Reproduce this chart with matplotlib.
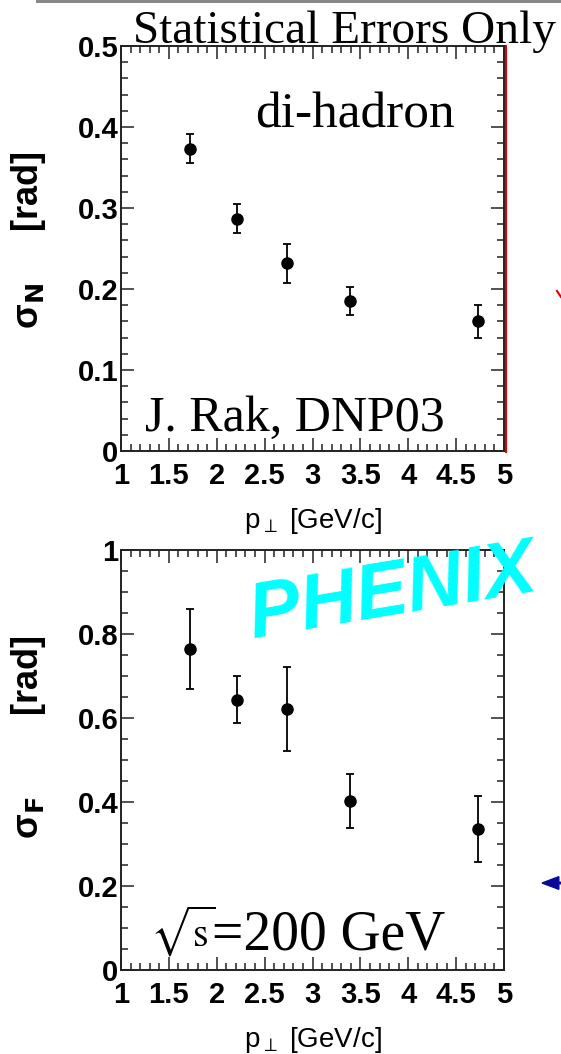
import matplotlib
matplotlib.use('Agg')
import matplotlib.pyplot as plt
from matplotlib.ticker import MultipleLocator, FormatStrFormatter
from matplotlib.lines import Line2D
from matplotlib.patches import Rectangle, FancyArrow

# data
pt = [1.72, 2.21, 2.73, 3.39, 4.73]
sigma_n = [0.373, 0.287, 0.232, 0.185, 0.160]
sigma_n_err = [0.018, 0.018, 0.024, 0.017, 0.020]
sigma_f = [0.764, 0.643, 0.621, 0.402, 0.336]
sigma_f_err = [0.096, 0.056, 0.100, 0.065, 0.078]

W, H = 561, 1054
SANS = ['Liberation Sans', 'DejaVu Sans']
SERIF = ['Liberation Serif', 'DejaVu Serif']


def fx(px):
    return px / W


def fy(px):
    return 1 - px / H


def style_axes(ax, ymax, ymajor, yminor):
    ax.set_xlim(1, 5)
    ax.set_ylim(0, ymax)
    ax.xaxis.set_major_locator(MultipleLocator(0.5))
    ax.xaxis.set_minor_locator(MultipleLocator(0.1))
    ax.yaxis.set_major_locator(MultipleLocator(ymajor))
    ax.yaxis.set_minor_locator(MultipleLocator(yminor))
    ax.xaxis.set_major_formatter(FormatStrFormatter('%g'))
    ax.yaxis.set_major_formatter(FormatStrFormatter('%g'))
    ax.tick_params(which='both', direction='in', top=True, right=True, width=1.1, color='#222222')
    ax.tick_params(which='major', length=9.4)
    ax.tick_params(which='minor', length=5)
    ax.tick_params(axis='x', pad=8)
    ax.tick_params(axis='y', pad=2)
    for lab in ax.get_xticklabels() + ax.get_yticklabels():
        lab.set_family(SANS)
        lab.set_fontweight('bold')
        lab.set_fontsize(21)
    for sp in ax.spines.values():
        sp.set_linewidth(1.4)
        sp.set_color('#222222')


fig = plt.figure(figsize=(W / 100, H / 100), dpi=100)

ax1 = fig.add_axes([fx(121), fy(451), (504 - 121) / W, (451 - 46) / H])
ax2 = fig.add_axes([fx(121), fy(970), (504 - 121) / W, (970 - 550) / H])

ax1.errorbar(pt, sigma_n, yerr=sigma_n_err, fmt='o', color='black', ms=8,
             capsize=3, elinewidth=1.3, capthick=1.3)
ax2.errorbar(pt, sigma_f, yerr=sigma_f_err, fmt='o', color='black', ms=8,
             capsize=3, elinewidth=1.3, capthick=1.3)

style_axes(ax1, 0.5, 0.1, 0.02)
style_axes(ax2, 1.0, 0.2, 0.05)

ax1.set_ylabel(r'σ$_{\mathbf{N}}$     [rad]', fontsize=26, fontweight='bold', family=SANS)
ax2.set_ylabel(r'σ$_{\mathbf{F}}$        [rad]', fontsize=26, fontweight='bold', family=SANS)
ax1.yaxis.set_label_coords(-0.19, 0.521)
ax2.yaxis.set_label_coords(-0.19, 0.555)

for ax, h in ((ax1, 405), (ax2, 420)):
    ax.set_xlabel(r'p$_{\perp}$ [GeV/c]', fontsize=20, family=SANS)
    ax.xaxis.set_label_coords(0.5, -55 / h)

# texts on the slide
fig.text(fx(133), fy(43), 'Statistical Errors Only', family=SERIF, fontsize=34,
         ha='left', va='baseline')
fig.text(fx(255), fy(128), 'di-hadron', family=SERIF, fontsize=37,
         ha='left', va='baseline')
fig.text(fx(145), fy(431), 'J. Rak, DNP03', family=SERIF, fontsize=36,
         ha='left', va='baseline')
fig.text(fx(150), fy(947), r'$\sqrt{\mathrm{s}}$', math_fontfamily='stix', fontsize=29,
         ha='left', va='baseline')
fig.text(fx(212), fy(949), '=200 GeV', family=SERIF, fontsize=40,
         ha='left', va='baseline')

fig.text(fx(253), fy(638), 'PHENIX Preliminary', color='#00ffff', fontsize=56,
         family=SANS, fontweight='bold', style='italic',
         rotation=9.5, rotation_mode='anchor', ha='left', va='baseline', zorder=10)

# slide decorations
fig.add_artist(Rectangle((fx(36), fy(3)), 1 - fx(36), 3 / H, color='#888888', lw=0))
fig.add_artist(Line2D([fx(505.5), fx(505.5)], [fy(46), fy(452)], color='#e00000', lw=1.5))
fig.add_artist(Line2D([fx(557), fx(561)], [fy(291), fy(297)], color='#e00000', lw=1.5))
fig.patches.append(FancyArrow(fx(561), fy(883), -(561 - 542) / W, 0,
                   width=0.0015, head_width=0.012, head_length=0.03, color='#0a0a9a',
                   length_includes_head=True, transform=fig.transFigure, figure=fig))

fig.savefig('out.png', dpi=100)
